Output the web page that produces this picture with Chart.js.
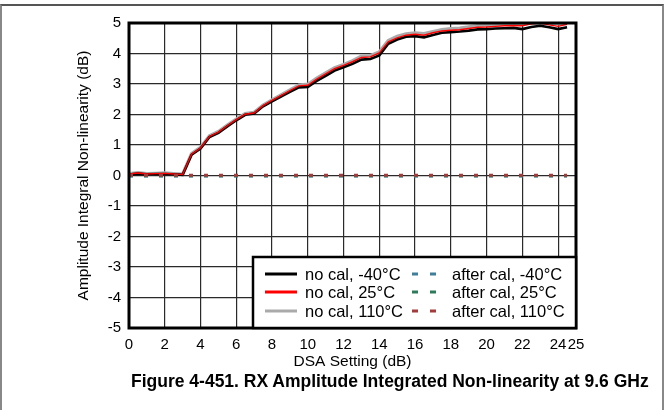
<!DOCTYPE html>
<html>
<head>
<meta charset="utf-8">
<script src="https://cdn.jsdelivr.net/npm/chart.js@4"></script>
<style>
  body { margin: 0; background: #fff; }
  #wrap { position: relative; width: 664px; height: 410px; overflow: hidden; }
  #frame { position: absolute; left: 0; top: 4px; width: 660px; height: 420px;
           border-top: 2px solid #555; border-left: 2px solid #888; border-right: 2px solid #888; }
  #chart { position: absolute; left: 0; top: 0; }
  #caption { position: absolute; left: 131px; top: 371px; white-space: nowrap;
             font: bold 17.5px "Liberation Sans", Arial, sans-serif; color: #000; }
</style>
</head>
<body>
<div id="wrap">
  <div id="frame"></div>
  <canvas id="chart" width="664" height="410"></canvas>
  <div id="caption">Figure 4-451. RX Amplitude Integrated Non-linearity at 9.6 GHz</div>
</div>
<script>
// DSA setting (dB)
const dsa = [0, 0.5, 1, 1.5, 2, 2.5, 3, 3.5, 4, 4.5, 5, 5.5, 6, 6.5, 7, 7.5, 8, 8.5, 9, 9.5,
  10, 10.5, 11, 11.5, 12, 12.5, 13, 13.5, 14, 14.5, 15, 15.5, 16, 16.5, 17, 17.5, 18, 18.5, 19, 19.5,
  20, 20.5, 21, 21.5, 22, 22.5, 23, 23.5, 24, 24.5];

const noCalM40 = [0.03, 0.06, 0.04, 0.05, 0.05, 0.04, 0.02, 0.68, 0.88, 1.26, 1.40, 1.61, 1.81, 1.99, 2.03, 2.27, 2.43, 2.59, 2.74, 2.89,
  2.90, 3.10, 3.27, 3.44, 3.55, 3.66, 3.80, 3.82, 3.94, 4.32, 4.46, 4.55, 4.57, 4.53, 4.61, 4.68, 4.70, 4.72, 4.75, 4.79,
  4.80, 4.82, 4.83, 4.84, 4.80, 4.87, 4.91, 4.86, 4.80, 4.86];
const noCal25 = [0.05, 0.08, 0.05, 0.06, 0.07, 0.05, 0.03, 0.70, 0.90, 1.28, 1.42, 1.63, 1.83, 2.01, 2.05, 2.29, 2.46, 2.62, 2.78, 2.94,
  2.96, 3.16, 3.33, 3.50, 3.61, 3.73, 3.87, 3.89, 4.02, 4.38, 4.51, 4.60, 4.63, 4.60, 4.68, 4.74, 4.76, 4.78, 4.82, 4.86,
  4.87, 4.89, 4.91, 4.92, 4.91, 4.97, 5.00, 4.94, 4.89, 4.96];
const noCal110 = [0.06, 0.09, 0.06, 0.07, 0.08, 0.06, 0.04, 0.72, 0.92, 1.30, 1.44, 1.65, 1.85, 2.03, 2.07, 2.31, 2.48, 2.64, 2.80, 2.96,
  2.99, 3.19, 3.36, 3.53, 3.64, 3.76, 3.91, 3.93, 4.05, 4.42, 4.56, 4.64, 4.67, 4.65, 4.72, 4.78, 4.81, 4.83, 4.87, 4.91,
  4.93, 4.94, 4.96, 4.97, 4.97, 5.00, 5.00, 5.00, 4.97, 5.00];
const afterCalM40 = [-0.02, -0.02, -0.02, -0.02, -0.02, -0.02, -0.02, -0.02, -0.02, -0.02, -0.02, -0.02, -0.02, -0.02, -0.02, -0.02, -0.02, -0.02, -0.02, -0.02,
  -0.02, -0.02, -0.02, -0.02, -0.02, -0.02, -0.02, -0.02, -0.02, -0.02, -0.02, -0.02, -0.02, -0.02, -0.02, -0.02, -0.02, -0.02, -0.02, -0.02,
  -0.02, -0.02, -0.02, -0.02, -0.02, -0.02, -0.02, -0.02, -0.02, -0.02];
const afterCal25 = [-0.01, -0.01, -0.01, -0.01, -0.01, -0.01, -0.01, -0.01, -0.01, -0.01, -0.01, -0.01, -0.01, -0.01, -0.01, -0.01, -0.01, -0.01, -0.01, -0.01,
  -0.01, -0.01, -0.01, -0.01, -0.01, -0.01, -0.01, -0.01, -0.01, -0.01, -0.01, -0.01, -0.01, -0.01, -0.01, -0.01, -0.01, -0.01, -0.01, -0.01,
  -0.01, -0.01, -0.01, -0.01, -0.01, -0.01, -0.01, -0.01, -0.01, -0.01];
const afterCal110 = [0.01, 0.01, 0.01, 0.01, 0.01, 0.01, 0.01, 0.01, 0.01, 0.01, 0.01, 0.01, 0.01, 0.01, 0.01, 0.01, 0.01, 0.01, 0.01, 0.01,
  0.01, 0.01, 0.01, 0.01, 0.01, 0.01, 0.01, 0.01, 0.01, 0.01, 0.01, 0.01, 0.01, 0.01, 0.01, 0.01, 0.01, 0.01, 0.01, 0.01,
  0.01, 0.01, 0.01, 0.01, 0.01, 0.01, 0.01, 0.01, 0.01, 0.01];

const xTicks = [0, 2, 4, 6, 8, 10, 12, 14, 16, 18, 20, 22, 24, 25];

const FONT = '"Liberation Sans", Arial, sans-serif';
Chart.defaults.font.family = FONT;
Chart.defaults.color = "#000";

function pts(ys) {
  return dsa.map((x, i) => ({ x: x, y: ys[i] }));
}

function solid(label, ys, color, width, order) {
  return { label, data: pts(ys), borderColor: color, borderWidth: width, order,
    pointRadius: 0, tension: 0, fill: false };
}
function dashed(label, ys, color, order) {
  return { label, data: pts(ys), borderColor: color, borderWidth: 3, borderDash: [4, 11],
    borderCapStyle: "butt", order, pointRadius: 0, tension: 0, fill: false };
}

const datasets = [
  solid("no cal, -40\u00b0C", noCalM40, "#000000", 2.6, 2),
  solid("no cal, 25\u00b0C", noCal25, "#ff0000", 1.4, 1),
  solid("no cal, 110\u00b0C", noCal110, "#aaaaaa", 3.4, 3),
  dashed("after cal, -40\u00b0C", afterCalM40, "#3f7f99", 0),
  dashed("after cal, 25\u00b0C", afterCal25, "#2f7a5a", -1),
  dashed("after cal, 110\u00b0C", afterCal110, "#a33b3b", -2),
];

// thick frame round the plot area
const framePlugin = {
  id: "frame",
  afterDatasetsDraw(chart) {
    const { ctx, chartArea: a } = chart;
    ctx.save();
    ctx.lineWidth = 3;
    ctx.strokeStyle = "#000";
    ctx.strokeRect(a.left, a.top, a.right - a.left, a.bottom - a.top);
    ctx.restore();
  },
};

// boxed legend in the bottom right corner, two columns
const boxLegend = {
  id: "boxLegend",
  afterDraw(chart) {
    const { ctx, chartArea: a } = chart;
    const w = 323, h = 71;
    const x0 = a.right - w, y0 = a.bottom - h;
    const rows = [17, 35, 54];
    ctx.save();
    ctx.fillStyle = "#fff";
    ctx.fillRect(x0, y0, w, h);
    ctx.lineWidth = 2.5;
    ctx.strokeStyle = "#000";
    ctx.strokeRect(x0, y0, w, h);
    ctx.font = "16.5px " + FONT;
    ctx.textBaseline = "middle";
    ctx.textAlign = "left";
    chart.data.datasets.forEach((ds, i) => {
      const col = i < 3 ? 0 : 1;
      const y = y0 + rows[i % 3];
      ctx.beginPath();
      ctx.strokeStyle = ds.borderColor;
      ctx.lineWidth = 3;
      if (col === 0) {
        ctx.setLineDash([]);
        ctx.moveTo(x0 + 12, y);
        ctx.lineTo(x0 + 44, y);
      } else {
        ctx.setLineDash([6, 12]);
        ctx.moveTo(x0 + 159, y);
        ctx.lineTo(x0 + 184, y);
      }
      ctx.stroke();
      ctx.setLineDash([]);
      ctx.fillStyle = "#000";
      ctx.fillText(ds.label, x0 + (col === 0 ? 52 : 199), y + 1);
    });
    ctx.restore();
  },
};

new Chart(document.getElementById("chart"), {
  type: "line",
  data: { datasets },
  options: {
    responsive: false,
    animation: false,
    layout: { padding: { left: 74, right: 88, top: 23, bottom: 39 } },
    plugins: { legend: { display: false }, tooltip: { enabled: false } },
    scales: {
      x: {
        type: "linear",
        min: 0,
        max: 25,
        afterBuildTicks: (scale) => { scale.ticks = xTicks.map((v) => ({ value: v })); },
        afterFit: (scale) => { scale.height = 43; },
        ticks: { autoSkip: false, maxRotation: 0, padding: 8, font: { size: 15 }, color: "#000" },
        grid: { color: "#2a2a2a", lineWidth: 1.2, drawTicks: false },
        border: { display: false },
        title: { display: true, text: "DSA Setting (dB)", font: { size: 15.5 }, color: "#000",
          padding: { top: 0, bottom: 0 } },
      },
      y: {
        min: -5,
        max: 5,
        afterFit: (scale) => { scale.width = 55; },
        ticks: { stepSize: 1, padding: 8, font: { size: 15 }, color: "#000" },
        grid: { color: "#2a2a2a", lineWidth: 1.2, drawTicks: false },
        border: { display: false },
        title: { display: true, text: "Amplitude Integral Non-linearity (dB)", font: { size: 15.5 },
          color: "#000", padding: { top: 0, bottom: 0 } },
      },
    },
  },
  plugins: [framePlugin, boxLegend],
});
</script>
</body>
</html>
